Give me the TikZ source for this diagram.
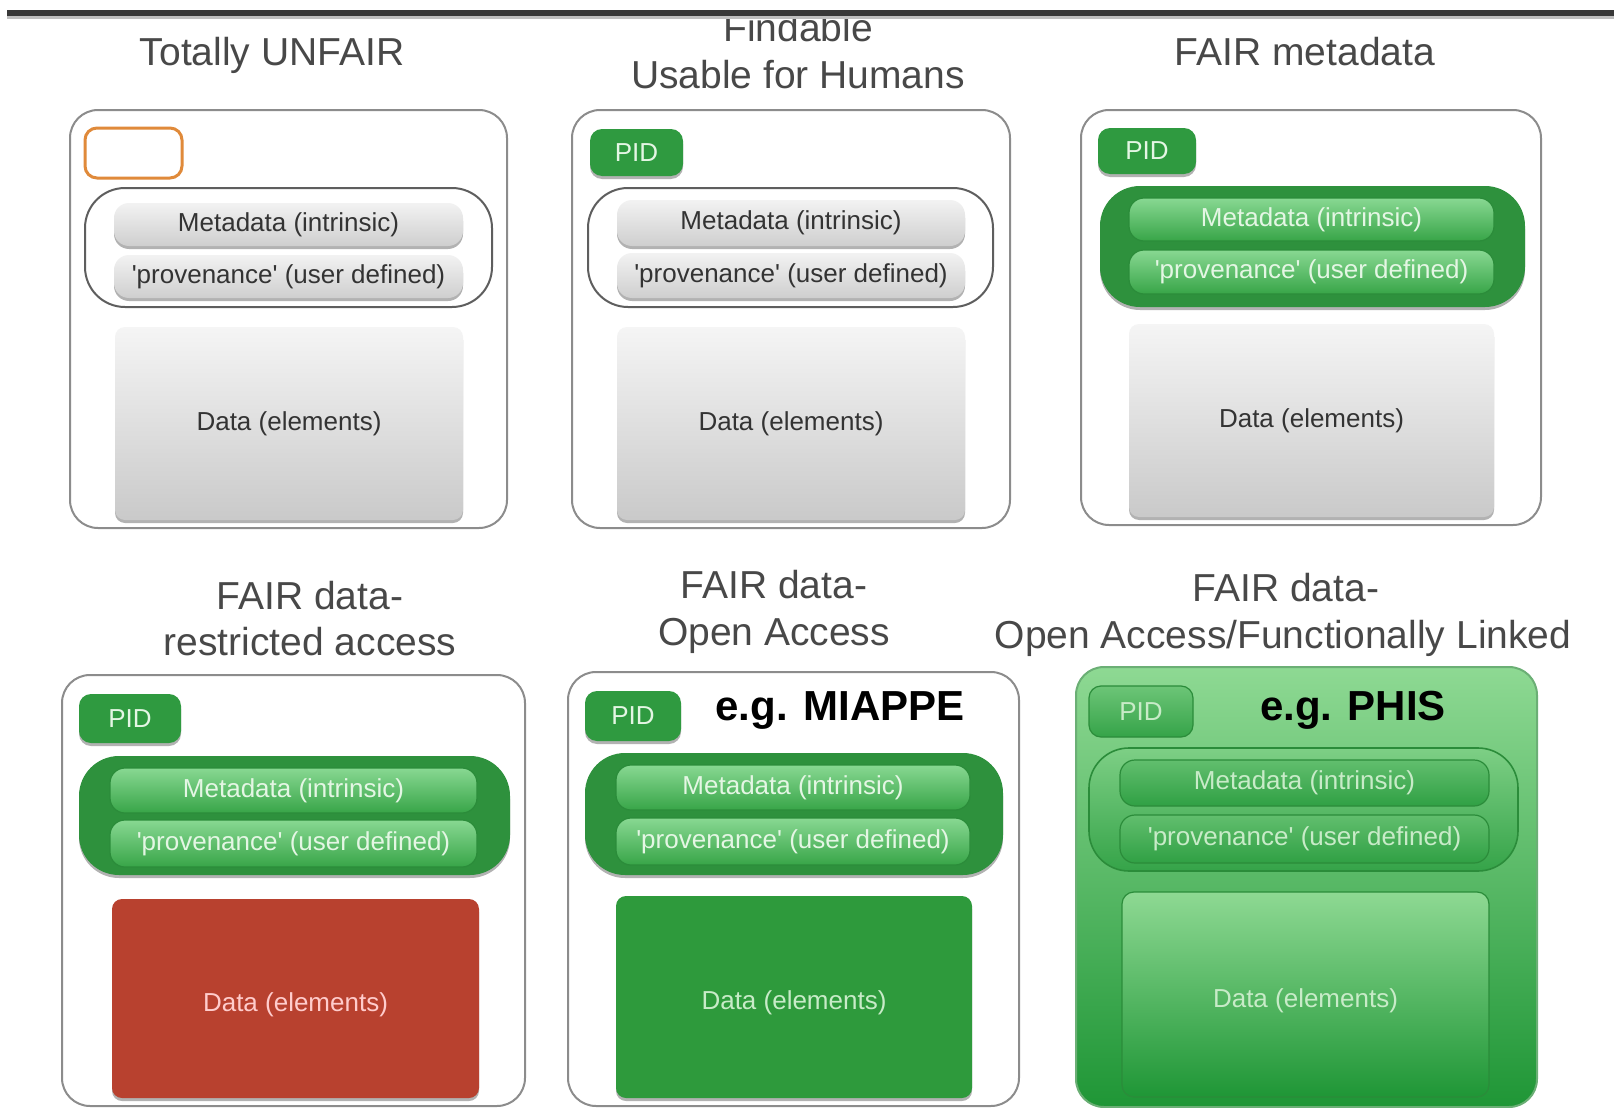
\documentclass[tikz,border=0pt]{standalone}
\usepackage{fontspec}
\setmainfont{Liberation Sans}
\usetikzlibrary{fit,shadows}

\definecolor{ttl}{HTML}{484848}
\definecolor{rulegray}{HTML}{383838}
\definecolor{framegray}{HTML}{8C8C8C}
\definecolor{grpgray}{HTML}{5E5E5E}
\definecolor{orangeline}{HTML}{E08A3A}
\definecolor{pidgreen}{HTML}{2F9A40}
\definecolor{grpgreen}{HTML}{2E913D}
\definecolor{barlight}{HTML}{88D892}
\definecolor{bardark}{HTML}{38A548}
\definecolor{redfill}{HTML}{B8412F}
\definecolor{datagreen}{HTML}{2E9A3C}
\definecolor{lightgreen}{HTML}{8ED993}
\definecolor{deepgreen}{HTML}{1F9636}
\definecolor{edgegreen}{HTML}{2B8C3A}
\definecolor{paletext}{HTML}{E4F6E4}
\definecolor{mutedtext}{HTML}{C8EBC8}

\tikzset{
  every node/.style={inner sep=0pt, outer sep=0pt},
  heading/.style={text=ttl, font=\fontsize{19.5}{23.5}\selectfont, anchor=base},
  egtext/.style={text=black, font=\bfseries\fontsize{21}{25}\selectfont, anchor=base},
  % label texts inside the boxes
  lbldark/.style={text=black!80, font=\fontsize{13}{15}\selectfont},
  lblpale/.style={text=paletext, font=\fontsize{13}{15}\selectfont},
  lblmuted/.style={text=mutedtext, font=\fontsize{13}{15}\selectfont},
  lblred/.style={text=red!20, font=\fontsize{13}{15}\selectfont},
  softshadow/.style={drop shadow={shadow xshift=0pt, shadow yshift=-1.5pt, opacity=0.3, fill=black}},
  panel/.style={draw=framegray, line width=1pt, fill=white, rounded corners=14pt},
  grp/.style={draw=grpgray, line width=1pt, fill=white, rounded corners=20pt},
  greengrp/.style={fill=grpgreen, rounded corners=20pt, softshadow},
  orangebox/.style={draw=orangeline, line width=1.5pt, fill=white, rounded corners=6pt},
  pidbox/.style={fill=pidgreen, rounded corners=6pt, softshadow},
  graybar/.style={rounded corners=7.5pt, top color=gray!10, bottom color=gray!38, softshadow},
  greenbar/.style={rounded corners=7.5pt, top color=barlight, bottom color=bardark, draw=edgegreen, line width=0.6pt},
  graydata/.style={rounded corners=5pt, top color=gray!8, bottom color=gray!42, softshadow},
  reddata/.style={rounded corners=5pt, fill=redfill, softshadow},
  greendata/.style={rounded corners=5pt, fill=datagreen, softshadow},
  % the linked panel is green all through
  linkpanel/.style={draw=edgegreen!70, line width=1pt, top color=lightgreen, bottom color=deepgreen, rounded corners=14pt},
  linkgrp/.style={draw=edgegreen, line width=0.8pt, top color=lightgreen!85!deepgreen, bottom color=deepgreen!80!lightgreen, rounded corners=20pt},
  linkbar/.style={rounded corners=7.5pt, top color=lightgreen!60!deepgreen, bottom color=deepgreen!85!lightgreen,
    draw=edgegreen, line width=0.6pt},
  linkpid/.style={rounded corners=6pt, top color=lightgreen!70!deepgreen, bottom color=deepgreen!80!lightgreen,
    draw=edgegreen, line width=0.6pt},
  linkdata/.style={rounded corners=6pt, top color=lightgreen, bottom color=deepgreen, draw=edgegreen, line width=0.6pt}
}

\begin{document}
\begin{tikzpicture}[x=0.5pt, y=-0.5pt]
\useasboundingbox (0,0) rectangle (1614,1108);

% headings
\node[heading] (h1) at (272,65) {Totally UNFAIR};
\node[heading] (h2a) at (798,41) {Findable};
\node[heading] (h2b) at (798,88) {Usable for Humans};
\node[heading] (h3) at (1305,65) {FAIR metadata};
\node[heading] (h4a) at (310,609) {FAIR data-};
\node[heading] (h4b) at (310,655) {restricted access};
\node[heading] (h5a) at (774,598) {FAIR data-};
\node[heading] (h5b) at (774,645) {Open Access};
\node[heading] (h6a) at (1286,601) {FAIR data-};
\node[heading] (h6b) at (1283,648) {Open Access/Functionally Linked};

% top rule
\coordinate (rl) at (7,13);
\coordinate (rr) at (1614,13);
\draw[line width=1.5pt, draw=black!25] ([yshift=-2.4pt]rl) -- ([yshift=-2.4pt]rr);
\draw[line width=3pt, draw=rulegray] (rl) -- (rr);

% panel 1
\node[panel, fit={(70,110) (507,528)}] (p1) {};
\node[orangebox, fit={(85,128) (182,178)}] (id1) {};
\node[grp, fit={(85,188) (492,307)}] (g1) {};
\node[graybar, fit={(114,203) (463,246)}, label={[lbldark]center:Metadata (intrinsic)}] (m1) {};
\node[graybar, fit={(114,255) (463,298)}, label={[lbldark]center:\textquotesingle provenance\textquotesingle\ (user defined)}] (v1) {};
\node[graydata, fit={(115,327) (463,520)}, label={[lbldark]center:Data (elements)}] (d1) {};

% panel 2
\node[panel, fit={(572,110) (1010,528)}] (p2) {};
\node[pidbox, fit={(590,129) (683,176)}, label={[lblpale]center:PID}] (id2) {};
\node[grp, fit={(588,188) (993,307)}] (g2) {};
\node[graybar, fit={(617,200) (965,246)}, label={[lbldark]center:Metadata (intrinsic)}] (m2) {};
\node[graybar, fit={(617,253) (965,298)}, label={[lbldark]center:\textquotesingle provenance\textquotesingle\ (user defined)}] (v2) {};
\node[graydata, fit={(617,327) (965,520)}, label={[lbldark]center:Data (elements)}] (d2) {};

% panel 3
\node[panel, fit={(1081,110) (1541,525)}] (p3) {};
\node[pidbox, fit={(1098,128) (1196,174)}, label={[lblpale]center:PID}] (id3) {};
\node[greengrp, fit={(1100,186) (1525,307)}] (g3) {};
\node[greenbar, fit={(1129,198) (1494,241)}, label={[lblpale]center:Metadata (intrinsic)}] (m3) {};
\node[greenbar, fit={(1129,250) (1494,294)}, label={[lblpale]center:\textquotesingle provenance\textquotesingle\ (user defined)}] (v3) {};
\node[graydata, fit={(1129,324) (1494,517)}, label={[lbldark]center:Data (elements)}] (d3) {};

% panel 4
\node[panel, fit={(62,675) (525,1106)}] (p4) {};
\node[pidbox, fit={(79,694) (181,743)}, label={[lblpale]center:PID}] (id4) {};
\node[greengrp, fit={(79,756) (510,875)}] (g4) {};
\node[greenbar, fit={(110,768) (477,813)}, label={[lblpale]center:Metadata (intrinsic)}] (m4) {};
\node[greenbar, fit={(110,820) (477,867)}, label={[lblpale]center:\textquotesingle provenance\textquotesingle\ (user defined)}] (v4) {};
\node[reddata, fit={(112,899) (479,1098)}, label={[lblred, yshift=-3pt]center:Data (elements)}] (d4) {};

% panel 5
\node[panel, fit={(568,672) (1019,1106)}] (p5) {};
\node[pidbox, fit={(585,691) (681,741)}, label={[lblpale]center:PID}] (id5) {};
\node[egtext] (eg5) at (840,720) {e.g. MIAPPE};
\node[greengrp, fit={(585,753) (1003,875)}] (g5) {};
\node[greenbar, fit={(616,765) (970,810)}, label={[lblpale]center:Metadata (intrinsic)}] (m5) {};
\node[greenbar, fit={(616,818) (970,865)}, label={[lblpale]center:\textquotesingle provenance\textquotesingle\ (user defined)}] (v5) {};
\node[greendata, fit={(616,896) (972,1098)}, label={[lblmuted, yshift=-3pt]center:Data (elements)}] (d5) {};

% panel 6
\node[linkpanel, fit={(1076,667) (1537,1107)}] (p6) {};
\node[linkpid, fit={(1089,686) (1193,737)}, label={[lblmuted]center:PID}] (id6) {};
\node[egtext] (eg6) at (1353,720) {e.g. PHIS};
\node[linkgrp, fit={(1089,748) (1518,871)}] (g6) {};
\node[linkbar, fit={(1120,760) (1489,806)}, label={[lblmuted]center:Metadata (intrinsic)}] (m6) {};
\node[linkbar, fit={(1120,815) (1489,863)}, label={[lblmuted]center:\textquotesingle provenance\textquotesingle\ (user defined)}] (v6) {};
\node[linkdata, fit={(1122,892) (1489,1097)}, label={[lblmuted, yshift=-3pt]center:Data (elements)}] (d6) {};
\end{tikzpicture}
\end{document}
